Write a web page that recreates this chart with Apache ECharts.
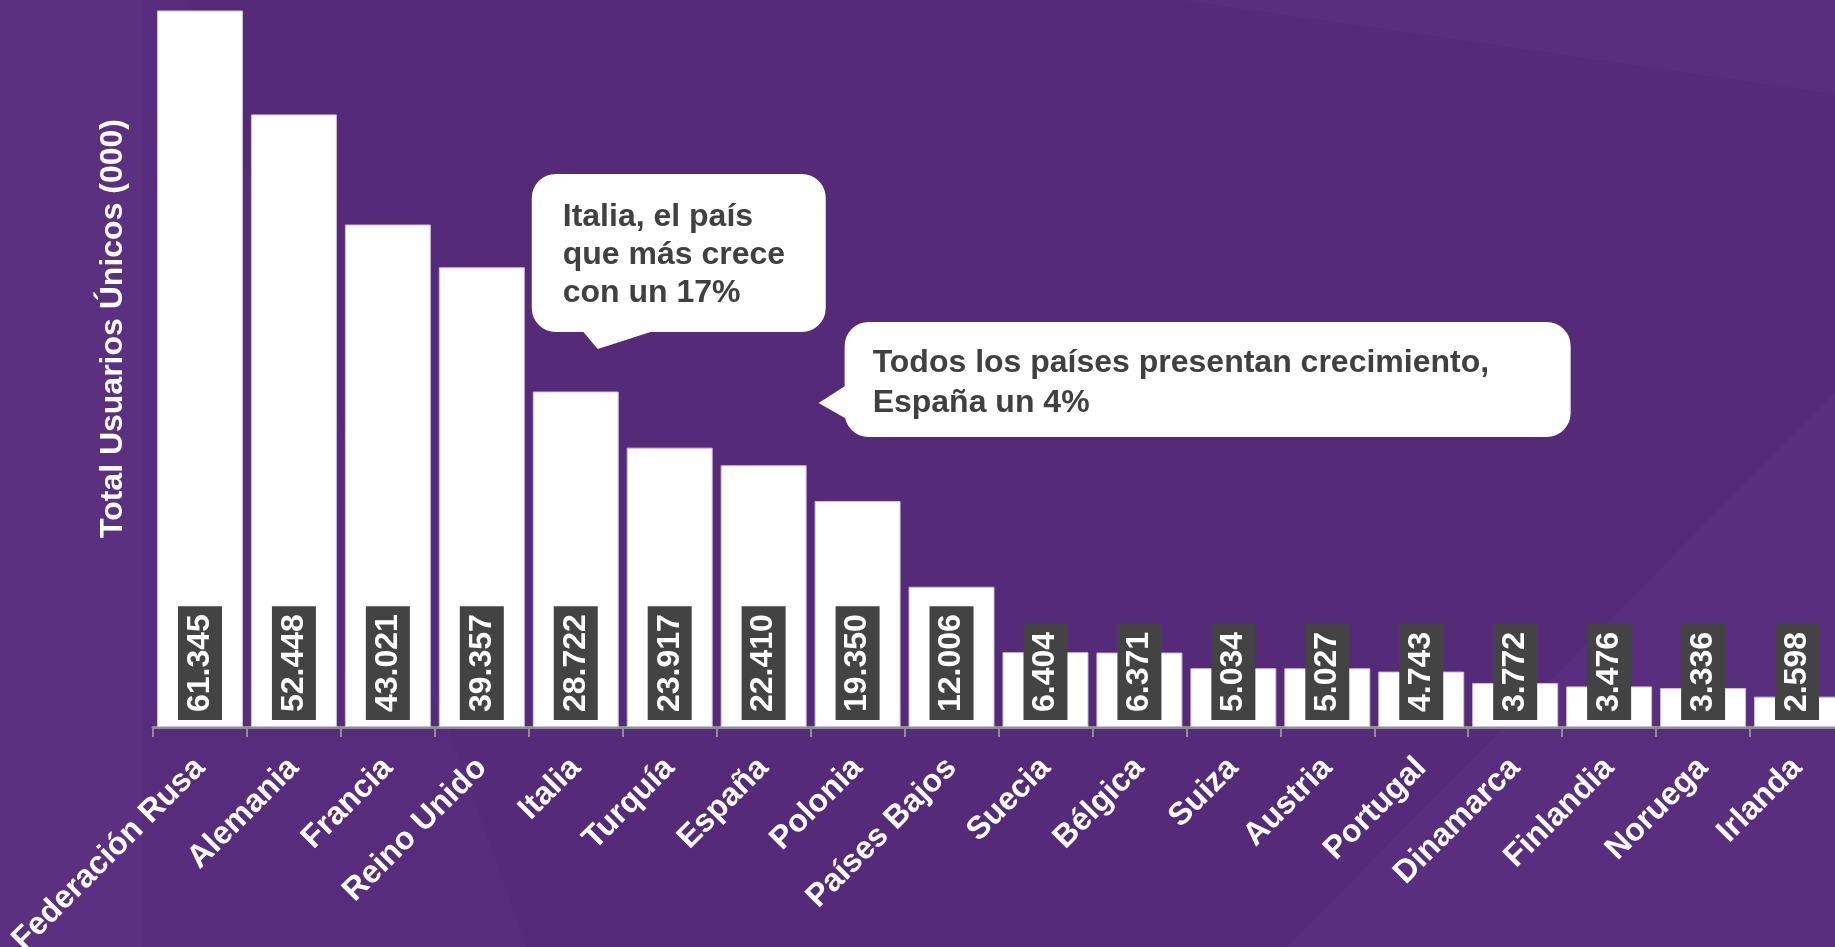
<!DOCTYPE html>
<html>
<head>
<meta charset="utf-8">
<title>Total Usuarios Únicos (000)</title>
<style>
  html, body { margin: 0; padding: 0; background: #552a79; overflow: hidden; }
  #chart { width: 1835px; height: 947px; }
</style>
<script src="https://cdn.jsdelivr.net/npm/echarts@6/dist/echarts.min.js"></script>
</head>
<body>
<div id="chart"></div>
<script>
// Unique users per country, in thousands
const countries = ['Federación Rusa', 'Alemania', 'Francia', 'Reino Unido', 'Italia', 'Turquía', 'España', 'Polonia', 'Países Bajos', 'Suecia', 'Bélgica', 'Suiza', 'Austria', 'Portugal', 'Dinamarca', 'Finlandia', 'Noruega', 'Irlanda'];
const users = [61345, 52448, 43021, 39357, 28722, 23917, 22410, 19350, 12006, 6404, 6371, 5034, 5027, 4743, 3772, 3476, 3336, 2598];
const axisTitle = 'Total Usuarios Únicos (000)';
const noteItalia = ['Italia, el país', 'que más crece', 'con un 17%'];
const noteEspana = ['Todos los países presentan crecimiento,', 'España un 4%'];

const FONT = '"Liberation Sans", Arial, sans-serif';
const BG = '#552a79';

// Spanish style thousands separator: 61345 -> 61.345
function fmt(v) {
  return String(v).replace(/\B(?=(\d{3})+(?!\d))/g, '.');
}

const chart = echarts.init(document.getElementById('chart'), null, { renderer: 'canvas' });

chart.setOption({
  backgroundColor: BG,
  animation: false,
  grid: { left: 153, right: -9, top: 0, bottom: 220, containLabel: false, outerBoundsMode: 'none' },
  xAxis: {
    type: 'category',
    data: countries,
    axisLine: { show: true, lineStyle: { color: '#8e8e8e', width: 3 } },
    axisTick: { show: true, length: 10, lineStyle: { color: '#8e8e8e', width: 2 } },
    axisLabel: {
      interval: 0,
      rotate: 45,
      margin: 36,
      color: '#ffffff',
      fontSize: 32,
      fontWeight: 'bold',
      fontFamily: FONT
    },
    splitLine: { show: false }
  },
  yAxis: {
    type: 'value',
    min: 0,
    max: 62240,
    name: axisTitle,
    nameLocation: 'middle',
    nameRotate: 90,
    nameGap: 24,
    nameTextStyle: {
      color: '#ffffff',
      fontSize: 32,
      fontWeight: 'bold',
      fontFamily: FONT,
      padding: [0, 0, 0, 70]
    },
    axisLine: { show: false },
    axisTick: { show: false },
    axisLabel: { show: false },
    splitLine: { show: false }
  },
  series: [{
    type: 'bar',
    data: users,
    barCategoryGap: '8.5%',
    itemStyle: { color: '#ffffff', borderColor: '#cdbfe0', borderWidth: 1 },
    label: {
      show: true,
      position: 'insideBottom',
      distance: 7,
      rotate: 90,
      align: 'left',
      verticalAlign: 'middle',
      color: '#ffffff',
      fontSize: 32,
      lineHeight: 32,
      fontWeight: 'bold',
      fontFamily: FONT,
      backgroundColor: '#434343',
      padding: [6, 8],
      formatter: p => fmt(p.value)
    }
  }]
});

// Slide background shapes and the two speech-bubble notes
function callout(id, x, y, w, h, tail, lines, tx, ty, size, lh) {
  return {
    type: 'group', id: id, z: 100,
    children: [
      { type: 'rect', shape: { x: x, y: y, width: w, height: h, r: 24 }, style: { fill: '#ffffff' }, z: 100 },
      { type: 'polygon', shape: { points: tail }, style: { fill: '#ffffff' }, z: 100 },
      {
        type: 'text', z: 101, x: tx, y: ty,
        style: {
          text: lines.join('\n'), fill: '#404040',
          font: 'bold ' + size + 'px ' + FONT,
          lineHeight: lh, verticalAlign: 'top', align: 'left'
        }
      }
    ]
  };
}

const itX = chart.convertToPixel({ xAxisIndex: 0 }, 'Italia');
const esX = chart.convertToPixel({ xAxisIndex: 0 }, 'España');

const tip1x = itX + 22, tip1y = 349;
const tip2x = esX + 55, tip2y = 403;

chart.setOption({
  graphic: [
    { type: 'rect', id: 'bgLeft', z: -10, silent: true, shape: { x: 0, y: 0, width: 142, height: 947 }, style: { fill: '#5c3080' } },
    { type: 'polygon', id: 'bgMid', z: -10, silent: true, shape: { points: [[142, 0], [187, 0], [527, 947], [142, 947]] }, style: { fill: '#582c7c' } },
    { type: 'polygon', id: 'bgTop', z: -10, silent: true, shape: { points: [[1182, 0], [1835, 0], [1835, 94]] }, style: { fill: '#5a2e7e' } },
    { type: 'polygon', id: 'bgBottom', z: -10, silent: true, shape: { points: [[1835, 392], [1835, 947], [1287, 947]] }, style: { fill: '#5a2e7e' } },
    callout('noteItalia', tip1x - 66, 174, 294, 158,
      [[tip1x - 16, 330], [tip1x, tip1y], [tip1x + 59, 330]],
      noteItalia, tip1x - 35, 198, 32, 38),
    callout('noteEspana', tip2x + 26, 322, 726, 115,
      [[tip2x + 28, 385], [tip2x, tip2y], [tip2x + 28, 419]],
      noteEspana, tip2x + 54, 343, 32, 40)
  ]
});
</script>
</body>
</html>
